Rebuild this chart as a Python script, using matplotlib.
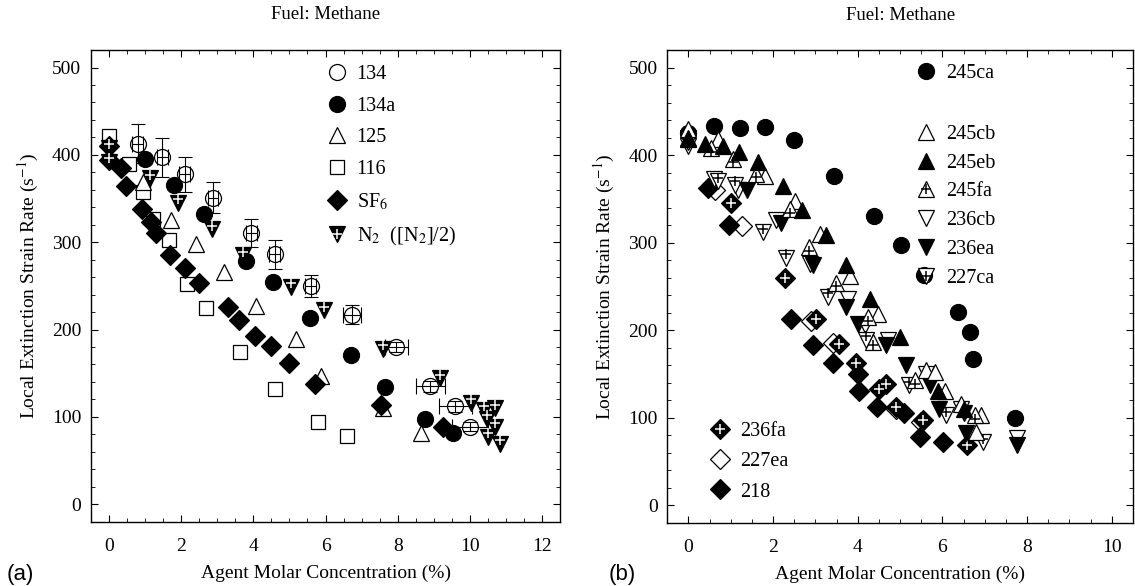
import numpy as np
import matplotlib
matplotlib.use("Agg")
import matplotlib.pyplot as plt
from matplotlib.lines import Line2D
from matplotlib.ticker import MultipleLocator

plt.rcParams["font.family"] = ["Liberation Serif", "DejaVu Serif"]
plt.rcParams["mathtext.fontset"] = "stix"

# ---- panel (a) data ----
x134 = [0.79, 1.48, 2.10, 2.88, 3.94, 4.59, 5.59, 6.74, 7.96, 8.91, 9.60, 10.0]
y134 = [413, 397, 378, 351, 311, 286, 250, 217, 180, 135, 112, 89]
yerr134 = [22, 22, 20, 18, 16, 17, 13, 11, 6, 6, 6, 5]
xerr134 = [0.15, 0.15, 0.15, 0.15, 0.15, 0.15, 0.15, 0.25, 0.32, 0.40, 0.45, 0.50]

x134a = [0.99, 1.80, 2.63, 3.79, 4.54, 5.58, 6.72, 7.66, 8.76, 9.53]
y134a = [395, 366, 332, 279, 254, 213, 171, 134, 98, 81]

x125 = [0.94, 1.73, 2.41, 3.18, 4.08, 5.17, 5.87, 7.59, 8.65]
y125 = [369, 325, 298, 266, 227, 189, 147, 110, 81]

x116 = [0, 0.55, 0.94, 1.22, 1.66, 2.16, 2.70, 3.62, 4.60, 5.80, 6.60]
y116 = [422, 390, 357, 327, 303, 252, 225, 174, 132, 94, 78]

xsf6 = [0, 0, 0.34, 0.46, 0.90, 1.15, 1.31, 1.70, 2.10, 2.50, 3.30, 3.60, 4.05, 4.50, 5.00, 5.70, 7.55, 9.25]
ysf6 = [410, 394, 385, 364, 338, 323, 310, 285, 270, 253, 226, 211, 193, 181, 162, 138, 114, 89]

xn2 = [0, 0, 1.13, 1.91, 2.84, 3.70, 5.03, 5.97, 7.59, 9.16, 10.04, 10.38, 10.71, 10.47, 10.71, 10.50, 10.84]
yn2 = [408, 392, 373, 345, 315, 285, 249, 222, 178, 144, 116, 108, 110, 98, 89, 77, 69]

# ---- panel (b) data ----
x245ca = [0, 0.61, 1.21, 1.82, 2.49, 3.43, 4.38, 5.02, 5.56, 6.37, 6.66, 6.73, 7.71]
y245ca = [425, 433, 431, 432, 417, 376, 331, 297, 263, 221, 198, 167, 100]

x245cb = [0, 0.69, 1.80, 2.51, 3.10, 3.81, 4.48, 5.60, 5.82, 6.05, 6.45, 6.92, 6.80]
y245cb = [430, 419, 376, 348, 310, 262, 219, 154, 152, 131, 116, 103, 84]

x245eb = [0, 0.40, 0.81, 1.19, 1.64, 2.23, 2.69, 3.24, 3.73, 4.28, 4.99, 5.89, 6.50]
y245eb = [420, 413, 410, 404, 392, 365, 337, 309, 274, 236, 192, 131, 110]

x245fa = [0, 0.54, 1.05, 1.60, 2.39, 2.84, 3.49, 4.24, 4.36, 5.34, 6.76]
y245fa = [418, 408, 396, 379, 338, 295, 254, 215, 187, 143, 103]

x236cb = [0, 0.61, 1.17, 2.07, 2.86, 3.77, 4.71, 5.60, 6.45, 7.76]
y236cb = [410, 373, 360, 326, 276, 236, 189, 150, 110, 77]

x236ea = [0, 1.39, 2.19, 2.94, 3.73, 4.00, 4.67, 5.15, 5.70, 5.93, 6.52, 6.56, 7.75]
y236ea = [420, 360, 322, 274, 227, 207, 183, 160, 137, 110, 105, 82, 69]

x227ca = [0, 0.69, 1.11, 1.76, 2.31, 3.29, 4.16, 4.20, 5.22, 6.09, 6.96]
y227ca = [415, 370, 366, 312, 283, 238, 206, 189, 137, 103, 72]

x236fa = [1.01, 2.29, 3.02, 3.55, 3.95, 4.50, 4.67, 4.90, 5.54, 6.58]
y236fa = [345, 260, 213, 184, 162, 133, 139, 112, 97, 69]

x227ea = [0.63, 1.27, 2.90, 3.41, 4.90, 5.50]
y227ea = [360, 319, 210, 185, 110, 95]

x218 = [0.46, 0.97, 2.43, 2.94, 3.41, 4.00, 4.04, 4.45, 5.10, 5.46, 6.01]
y218 = [362, 320, 213, 183, 162, 150, 131, 112, 105, 78, 72]

MS_O = 11.5
MS_T = 12
MS_D = 9.8
MS_S = 10
MS_P = 7
FS = 14.5


def open_kw(m, ms):
    return dict(marker=m, ms=ms, mfc="white", mec="black", mew=0.9, ls="none")


def fill_kw(m, ms):
    return dict(marker=m, ms=ms, mfc="black", mec="black", mew=0.9, ls="none")


def plus(ax, x, y, col, dy=0.0):
    ax.plot(x, np.asarray(y) + dy, marker="+", ms=MS_P, mew=1.1, color=col, ls="none")


def style(ax, xmax):
    ax.set_xlim(-0.5, xmax)
    ax.set_ylim(-20, 520)
    ax.xaxis.set_major_locator(MultipleLocator(2))
    ax.xaxis.set_minor_locator(MultipleLocator(0.5))
    ax.yaxis.set_major_locator(MultipleLocator(100))
    ax.yaxis.set_minor_locator(MultipleLocator(20))
    ax.tick_params(which="both", direction="in", top=True, right=True, labelsize=14)
    ax.tick_params(which="major", length=5, pad=7)
    ax.tick_params(axis="x", which="major", pad=12)
    ax.tick_params(which="minor", length=3)
    ax.set_xlabel("Agent Molar Concentration (%)", fontsize=14, labelpad=7)
    ax.set_ylabel("Local Extinction Strain Rate (s$^{-1}$)", fontsize=14, labelpad=8)
    ax.set_title("Fuel: Methane", fontsize=13.5, pad=22)
    for s in ax.spines.values():
        s.set_linewidth(1.0)


fig = plt.figure(figsize=(11.35, 5.86), dpi=100)
ax1 = fig.add_axes([0.0802, 0.1097, 0.4132, 0.8049])
ax2 = fig.add_axes([0.5879, 0.1080, 0.4103, 0.8063])

# ---------- panel (a) ----------
ax1.errorbar(x134, y134, yerr=yerr134, fmt="none", ecolor="black", elinewidth=0.8, capsize=5, capthick=0.8)
ax1.errorbar(x134, y134, xerr=xerr134, fmt="none", ecolor="black", elinewidth=0.8, capsize=6, capthick=0.8)
ax1.plot(x134, y134, marker="o", ms=MS_O, mfc="none", mec="black", mew=0.9, ls="none")
ax1.plot(x116, y116, **open_kw("s", MS_S))
ax1.plot(x125, y125, **open_kw("^", MS_T))
ax1.plot(x134a, y134a, **fill_kw("o", MS_O))
ax1.plot(xsf6, ysf6, **fill_kw("D", MS_D))
ax1.plot(xn2, yn2, **fill_kw("v", MS_T))
plus(ax1, xn2, yn2, "white", dy=4)

h134 = Line2D([], [], marker="o", ms=MS_O, mfc="none", mec="black", mew=0.9, ls="none")
h134a = Line2D([], [], **fill_kw("o", MS_O))
h125 = Line2D([], [], **open_kw("^", MS_T))
h116 = Line2D([], [], **open_kw("s", MS_S))
hsf6 = Line2D([], [], **fill_kw("D", MS_D))
hn2 = (Line2D([], [], **fill_kw("v", MS_T)),
       Line2D([], [], marker="+", ms=MS_P, mew=1.1, color="white", ls="none"))
ax1.legend([h134, h134a, h125, h116, hsf6, hn2],
           ["134", "134a", "125", "116", "SF$_6$", "N$_2$  ([N$_2$]/2)"],
           loc="upper left", bbox_to_anchor=(0.502, 0.968), frameon=False,
           fontsize=FS, handlelength=1.0, handletextpad=0.5, labelspacing=0.62,
           borderpad=0, borderaxespad=0)
style(ax1, 12.5)

# ---------- panel (b) ----------
ax2.plot(x245ca, y245ca, **fill_kw("o", MS_O))
ax2.plot(x227ea, y227ea, **open_kw("D", MS_D))
ax2.plot(x218, y218, **fill_kw("D", MS_D))
ax2.plot(x236fa, y236fa, **fill_kw("D", MS_D))
plus(ax2, x236fa, y236fa, "white")
ax2.plot(x236cb, y236cb, **open_kw("v", MS_T))
ax2.plot(x227ca, y227ca, **open_kw("v", MS_T))
plus(ax2, x227ca, y227ca, "black", dy=4)
ax2.plot(x236ea, y236ea, **fill_kw("v", MS_T))
ax2.plot(x245cb, y245cb, **open_kw("^", MS_T))
ax2.plot(x245fa, y245fa, **open_kw("^", MS_T))
plus(ax2, x245fa, y245fa, "black", dy=-4)
ax2.plot(x245eb, y245eb, **fill_kw("^", MS_T))

leg_kw = dict(loc="upper left", frameon=False, fontsize=FS, handlelength=1.0,
              handletextpad=0.5, borderpad=0, borderaxespad=0)
l1 = ax2.legend([Line2D([], [], **fill_kw("o", MS_O))], ["245ca"],
                bbox_to_anchor=(0.533, 0.970), **leg_kw)
ax2.add_artist(l1)
h245fa = (Line2D([], [], **open_kw("^", MS_T)),
          Line2D([], [], marker="+", ms=MS_P, mew=1.1, color="black", ls="none"))
h227ca = (Line2D([], [], **open_kw("v", MS_T)),
          Line2D([], [], marker="+", ms=MS_P, mew=1.1, color="black", ls="none"))
l2 = ax2.legend([Line2D([], [], **open_kw("^", MS_T)), Line2D([], [], **fill_kw("^", MS_T)), h245fa,
                 Line2D([], [], **open_kw("v", MS_T)), Line2D([], [], **fill_kw("v", MS_T)), h227ca],
                ["245cb", "245eb", "245fa", "236cb", "236ea", "227ca"],
                bbox_to_anchor=(0.533, 0.842), labelspacing=0.48, **leg_kw)
ax2.add_artist(l2)
h236fa = (Line2D([], [], **fill_kw("D", MS_D)),
          Line2D([], [], marker="+", ms=MS_P, mew=1.1, color="white", ls="none"))
ax2.legend([h236fa, Line2D([], [], **open_kw("D", MS_D)), Line2D([], [], **fill_kw("D", MS_D))],
           ["236fa", "227ea", "218"],
           bbox_to_anchor=(0.091, 0.213), labelspacing=0.55, **leg_kw)
style(ax2, 10.5)

fig.text(0.006, 0.010, "(a)", fontsize=16, family=["Liberation Sans", "DejaVu Sans"])
fig.text(0.536, 0.010, "(b)", fontsize=16, family=["Liberation Sans", "DejaVu Sans"])

fig.savefig("out.png", dpi=100)
